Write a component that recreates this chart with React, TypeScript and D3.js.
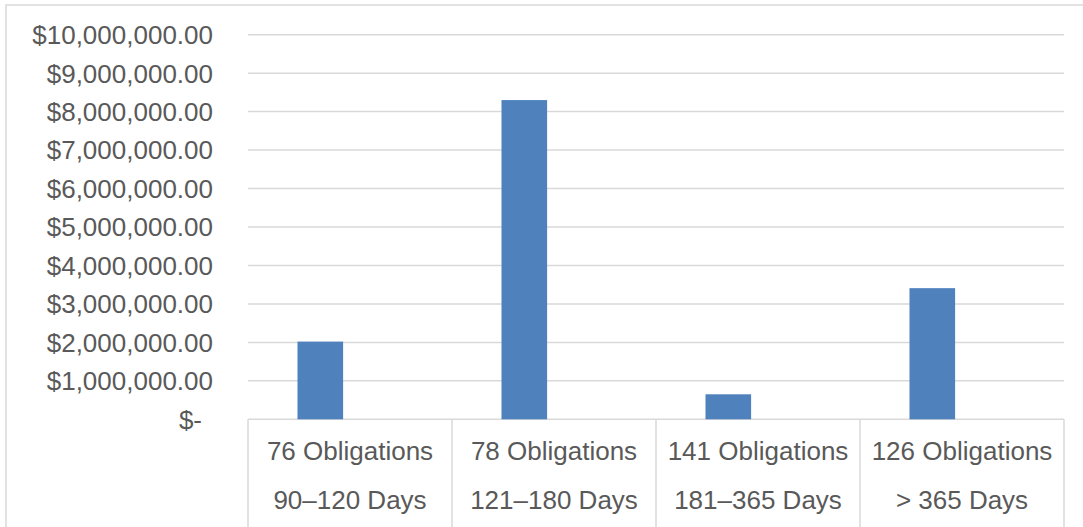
import React from "react";
import * as d3 from "d3";

// category axis (two levels) and the single series of amounts
const obligationCounts = ["76 Obligations", "78 Obligations", "141 Obligations", "126 Obligations"];
const ageRanges = ["90–120 Days", "121–180 Days", "181–365 Days", "> 365 Days"];
const amounts = [2020000, 8300000, 650000, 3410000];
const yTicks = [0, 1e6, 2e6, 3e6, 4e6, 5e6, 6e6, 7e6, 8e6, 9e6, 1e7];

const W = 1083;
const H = 527;
const FONT = "Liberation Sans, Arial, sans-serif";
const TEXT = "#595959";
const GRID = "#d9d9d9";
const BAR = "#4f81bd";

const money = (v: number) => (v === 0 ? "$-" : "$" + d3.format(",.2f")(v));

export default function App() {
  const x = d3.scaleBand<number>().domain(d3.range(amounts.length)).range([248, 1064]).padding(0);
  const y = d3.scaleLinear().domain([0, 1e7]).range([419.3, 34.7]);
  const bw = x.bandwidth();
  // Excel clusters two slots per category, the second one is empty
  const slot = d3
    .scaleBand<string>()
    .domain(["amount", "empty"])
    .range([bw * 0.2426, bw * 0.7574])
    .paddingInner(0.232);

  return (
    <svg
      width={W}
      height={H}
      style={{ position: "absolute", left: 0, top: 0, background: "#fff" }}
      fontFamily={FONT}
    >
      {/* outer chart border, cut off at right and bottom */}
      <rect x={6} y={5} width={W + 20} height={H + 20} fill="none" stroke={GRID} strokeWidth={1.5} />

      {/* gridlines */}
      {yTicks.map((t) => (
        <line key={t} x1={x.range()[0]} x2={x.range()[1]} y1={y(t)} y2={y(t)} stroke={GRID} strokeWidth={1.5} />
      ))}

      {/* y labels */}
      {yTicks.map((t) => (
        <text
          key={"l" + t}
          x={t === 0 ? 202 : 213}
          y={y(t)}
          dy="0.36em"
          textAnchor="end"
          fontSize={26}
          fill={TEXT}
        >
          {money(t)}
        </text>
      ))}

      {/* bars */}
      {amounts.map((v, i) => (
        <rect
          key={"b" + i}
          x={(x(i) ?? 0) + (slot("amount") ?? 0)}
          y={y(v)}
          width={slot.bandwidth()}
          height={y(0) - y(v)}
          fill={BAR}
        />
      ))}

      {/* category separators */}
      {d3.range(amounts.length + 1).map((i) => {
        const xx = i < amounts.length ? x(i) ?? 0 : x.range()[1];
        return <line key={"s" + i} x1={xx} x2={xx} y1={y(0)} y2={H + 10} stroke={GRID} strokeWidth={1.5} />;
      })}

      {/* category labels */}
      {obligationCounts.map((c, i) => (
        <text key={"c" + i} x={(x(i) ?? 0) + bw / 2} y={451} dy="0.36em" textAnchor="middle" fontSize={26} fill={TEXT}>
          {c}
        </text>
      ))}
      {ageRanges.map((c, i) => (
        <text key={"r" + i} x={(x(i) ?? 0) + bw / 2} y={500} dy="0.36em" textAnchor="middle" fontSize={26} fill={TEXT}>
          {c}
        </text>
      ))}
    </svg>
  );
}
